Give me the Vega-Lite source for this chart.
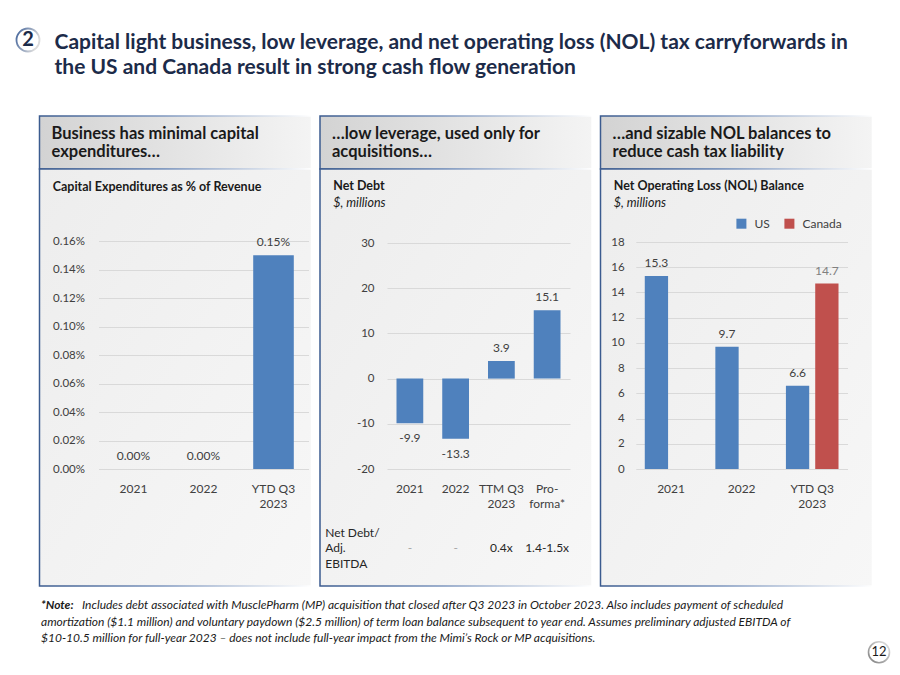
{
  "$schema": "https://vega.github.io/schema/vega-lite/v6.json",
  "background": "white",
  "padding": {"left": 12, "top": 24, "right": 0, "bottom": 0},
  "config": {
    "font": "Lato",
    "view": {"stroke": null},
    "axis": {"labelColor": "#404040", "labelFontSize": 11.5, "titleColor": "#1A1A1A", "titleFontSize": 12.5, "domain": false, "ticks": false, "tickSize": 0},
    "text": {"color": "#404040", "fontSize": 12}
  },
  "spacing": 37,
  "vconcat": [
    {
      "bounds": "flush",
      "spacing": 13,
      "hconcat": [
        {
          "width": 26,
          "height": 26,
          "data": {"values": [{"section": "2"}]},
          "layer": [
            {
              "mark": {"type": "point", "shape": "circle", "size": 529, "filled": true, "fill": "white", "opacity": 1, "strokeWidth": 1.8,
                "stroke": {"gradient": "linear", "x1": 0, "y1": 0, "x2": 1, "y2": 0.4, "stops": [{"offset": 0, "color": "#3F6199"}, {"offset": 1, "color": "#DCDCDC"}]}},
              "encoding": {}
            },
            {
              "mark": {"type": "text", "fontSize": 20, "fontWeight": "bold", "color": "#1C2B49", "baseline": "middle"},
              "encoding": {"text": {"field": "section"}}
            }
          ]
        },
        {
          "width": 1,
          "height": 50,
          "data": {"values": [{"headline": ["Capital light business, low leverage, and net operating loss (NOL) tax carryforwards in", "the US and Canada result in strong cash flow generation"]}]},
          "mark": {"type": "text", "align": "left", "baseline": "middle", "dy": -9, "fontSize": 21, "fontWeight": "bold", "color": "#1C2B49", "lineHeight": 25},
          "encoding": {"text": {"field": "headline"}}
        }
      ]
    },
    {
      "spacing": 12.25,
      "vconcat": [
        {
          "spacing": 6.5,
          "hconcat": [
            {"width": 16.75, "height": 10, "data": {"values": []}, "mark": "point", "encoding": {}},
            {
              "bounds": "flush",
              "spacing": 0,
              "vconcat": [
                {
                  "width": 272,
                  "height": 53,
                  "view": {
                    "fill": {"gradient": "linear", "x1": 0, "y1": 0, "x2": 1, "y2": 0, "stops": [{"offset": 0, "color": "#D3D3D3"}, {"offset": 1, "color": "#F4F4F4"}]},
                    "stroke": {"gradient": "linear", "x1": 0, "y1": 0, "x2": 1, "y2": 0, "stops": [{"offset": 0, "color": "#3B5B8F"}, {"offset": 0.45, "color": "#7D96BE"}, {"offset": 1, "color": "#FFFFFF"}]},
                    "strokeWidth": 1.5
                  },
                  "data": {"values": [{"header": ["Business has minimal capital", "expenditures…"]}]},
                  "mark": {"type": "text", "align": "left", "baseline": "middle", "dx": -124, "dy": -8.6, "fontSize": 16.5, "fontWeight": "bold", "color": "#1A1A1A", "lineHeight": 18.3},
                  "encoding": {"text": {"field": "header"}}
                },
                {
                  "width": 272,
                  "height": 417,
                  "view": {
                    "fill": {"gradient": "linear", "x1": 0, "y1": 0, "x2": 1, "y2": 1, "stops": [{"offset": 0, "color": "#EDEDED"}, {"offset": 1, "color": "#F7F7F7"}]},
                    "stroke": {"gradient": "linear", "x1": 0, "y1": 0, "x2": 1, "y2": 0, "stops": [{"offset": 0, "color": "#3B5B8F"}, {"offset": 0.45, "color": "#7D96BE"}, {"offset": 1, "color": "#FFFFFF"}]},
                    "strokeWidth": 1.5
                  },
                  "data": {"values": [
                    {"period": "2021", "capex": 0},
                    {"period": "2022", "capex": 0},
                    {"period": "YTD Q3 2023", "capex": 0.0015}
                  ]},
                  "layer": [
                    {
                      "mark": {"type": "bar", "color": "#4F81BD"},
                      "encoding": {
                        "x": {"field": "period", "type": "nominal", "sort": null,
                          "scale": {"range": [59, 269], "paddingInner": 0.42, "paddingOuter": 0.21},
                          "axis": {"orient": "bottom", "offset": -117, "title": null, "labelAngle": 0, "labelFontSize": 12, "labelPadding": 14, "labelLineHeight": 15.5, "grid": false,
                            "labelExpr": "datum.value == 'YTD Q3 2023' ? ['YTD Q3', '2023'] : datum.label"}},
                        "y": {"field": "capex", "type": "quantitative",
                          "scale": {"domain": [0, 0.0016], "range": [300, 72], "nice": false, "zero": true},
                          "axis": {"orient": "left", "offset": -59, "values": [0, 0.0002, 0.0004, 0.0006, 0.0008, 0.001, 0.0012, 0.0014, 0.0016], "format": ".2%",
                            "labelPadding": 14, "grid": true, "gridColor": "#D9D9D9", "labelOverlap": false,
                            "title": "Capital Expenditures as % of Revenue", "titleAngle": 0, "titleAlign": "left", "titleBaseline": "middle",
                            "titleX": -46.3, "titleY": 17, "titleFontWeight": "bold"}}
                      }
                    },
                    {
                      "mark": {"type": "text", "baseline": "middle", "dy": -13},
                      "encoding": {
                        "x": {"field": "period", "type": "nominal", "sort": null},
                        "y": {"field": "capex", "type": "quantitative"},
                        "text": {"field": "capex", "type": "quantitative", "format": ".2%"}
                      }
                    }
                  ]
                }
              ]
            },
            {
              "bounds": "flush",
              "spacing": 0,
              "vconcat": [
                {
                  "width": 272,
                  "height": 53,
                  "view": {
                    "fill": {"gradient": "linear", "x1": 0, "y1": 0, "x2": 1, "y2": 0, "stops": [{"offset": 0, "color": "#D3D3D3"}, {"offset": 1, "color": "#F4F4F4"}]},
                    "stroke": {"gradient": "linear", "x1": 0, "y1": 0, "x2": 1, "y2": 0, "stops": [{"offset": 0, "color": "#3B5B8F"}, {"offset": 0.45, "color": "#7D96BE"}, {"offset": 1, "color": "#FFFFFF"}]},
                    "strokeWidth": 1.5
                  },
                  "data": {"values": [{"header": ["…low leverage, used only for", "acquisitions…"]}]},
                  "mark": {"type": "text", "align": "left", "baseline": "middle", "dx": -124, "dy": -8.6, "fontSize": 16.5, "fontWeight": "bold", "color": "#1A1A1A", "lineHeight": 18.3},
                  "encoding": {"text": {"field": "header"}}
                },
                {
                  "width": 272,
                  "height": 417,
                  "view": {
                    "fill": {"gradient": "linear", "x1": 0, "y1": 0, "x2": 1, "y2": 1, "stops": [{"offset": 0, "color": "#EDEDED"}, {"offset": 1, "color": "#F7F7F7"}]},
                    "stroke": {"gradient": "linear", "x1": 0, "y1": 0, "x2": 1, "y2": 0, "stops": [{"offset": 0, "color": "#3B5B8F"}, {"offset": 0.45, "color": "#7D96BE"}, {"offset": 1, "color": "#FFFFFF"}]},
                    "strokeWidth": 1.5
                  },
                  "data": {"values": [
                    {"period": "2021", "netDebt": -9.9, "ratio": "-"},
                    {"period": "2022", "netDebt": -13.3, "ratio": "-"},
                    {"period": "TTM Q3 2023", "netDebt": 3.9, "ratio": "0.4x"},
                    {"period": "Pro-forma*", "netDebt": 15.1, "ratio": "1.4-1.5x"}
                  ]},
                  "resolve": {"axis": {"x": "independent"}},
                  "layer": [
                    {
                      "mark": {"type": "bar", "color": "#4F81BD"},
                      "encoding": {
                        "x": {"field": "period", "type": "nominal",
                          "scale": {"domain": ["2021", "2022", "TTM Q3 2023", "Pro-forma*"], "range": [67, 250], "paddingInner": 0.415, "paddingOuter": 0.2075},
                          "axis": {"orient": "bottom", "offset": -117, "labelAngle": 0, "labelFontSize": 12, "labelPadding": 14, "labelLineHeight": 15.5, "grid": false,
                            "labelExpr": "datum.value == 'TTM Q3 2023' ? ['TTM Q3', '2023'] : datum.value == 'Pro-forma*' ? ['Pro-', 'forma*'] : datum.label",
                            "title": ["Net Debt/", "Adj.", "EBITDA"], "titleAngle": 0, "titleAlign": "left", "titleBaseline": "middle",
                            "titleX": 4.7, "titleY": 63, "titleFontWeight": "normal", "titleFontSize": 12, "titleLineHeight": 15.6, "titleColor": "#262626"}},
                        "y": {"field": "netDebt", "type": "quantitative",
                          "scale": {"domain": [-20, 30], "range": [300, 74], "nice": false, "zero": false},
                          "axis": {"orient": "left", "offset": -67, "values": [-20, -10, 0, 10, 20, 30], "labelExpr": "'' + datum.value",
                            "labelPadding": 13, "grid": true, "gridColor": "#D9D9D9",
                            "title": "Net Debt", "titleAngle": 0, "titleAlign": "left", "titleBaseline": "middle",
                            "titleX": -54.3, "titleY": 16.3, "titleFontWeight": "bold"}}
                      }
                    },
                    {
                      "transform": [{"filter": "datum.netDebt >= 0"}],
                      "mark": {"type": "text", "baseline": "middle", "dy": -13},
                      "encoding": {
                        "x": {"field": "period", "type": "nominal", "axis": null},
                        "y": {"field": "netDebt", "type": "quantitative"},
                        "text": {"field": "netDebt", "type": "nominal"}
                      }
                    },
                    {
                      "transform": [{"filter": "datum.netDebt < 0"}],
                      "mark": {"type": "text", "baseline": "middle", "dy": 15},
                      "encoding": {
                        "x": {"field": "period", "type": "nominal", "axis": null},
                        "y": {"field": "netDebt", "type": "quantitative"},
                        "text": {"field": "netDebt", "type": "nominal"}
                      }
                    },
                    {
                      "mark": {"type": "text", "baseline": "middle", "dy": 78.7},
                      "encoding": {
                        "x": {"field": "period", "type": "nominal",
                          "axis": {"orient": "bottom", "offset": -117, "labels": false, "grid": false,
                            "title": "$, millions", "titleAngle": 0, "titleAlign": "left", "titleBaseline": "middle",
                            "titleX": 12.7, "titleY": -267, "titleFontWeight": "normal", "titleFontStyle": "italic"}},
                        "y": {"datum": -20},
                        "text": {"field": "ratio", "type": "nominal"},
                        "color": {"condition": {"test": "datum.ratio == '-'", "value": "#A6A6A6"}, "value": "#262626"}
                      }
                    }
                  ]
                }
              ]
            },
            {
              "bounds": "flush",
              "spacing": 0,
              "vconcat": [
                {
                  "width": 272,
                  "height": 53,
                  "view": {
                    "fill": {"gradient": "linear", "x1": 0, "y1": 0, "x2": 1, "y2": 0, "stops": [{"offset": 0, "color": "#D3D3D3"}, {"offset": 1, "color": "#F4F4F4"}]},
                    "stroke": {"gradient": "linear", "x1": 0, "y1": 0, "x2": 1, "y2": 0, "stops": [{"offset": 0, "color": "#3B5B8F"}, {"offset": 0.45, "color": "#7D96BE"}, {"offset": 1, "color": "#FFFFFF"}]},
                    "strokeWidth": 1.5
                  },
                  "data": {"values": [{"header": ["…and sizable NOL balances to", "reduce cash tax liability"]}]},
                  "mark": {"type": "text", "align": "left", "baseline": "middle", "dx": -124, "dy": -8.6, "fontSize": 16.5, "fontWeight": "bold", "color": "#1A1A1A", "lineHeight": 18.3},
                  "encoding": {"text": {"field": "header"}}
                },
                {
                  "width": 272,
                  "height": 417,
                  "view": {
                    "fill": {"gradient": "linear", "x1": 0, "y1": 0, "x2": 1, "y2": 1, "stops": [{"offset": 0, "color": "#EDEDED"}, {"offset": 1, "color": "#F7F7F7"}]},
                    "stroke": {"gradient": "linear", "x1": 0, "y1": 0, "x2": 1, "y2": 0, "stops": [{"offset": 0, "color": "#3B5B8F"}, {"offset": 0.45, "color": "#7D96BE"}, {"offset": 1, "color": "#FFFFFF"}]},
                    "strokeWidth": 1.5
                  },
                  "data": {"values": [
                    {"period": "2021", "country": "US", "nol": 15.3},
                    {"period": "2022", "country": "US", "nol": 9.7},
                    {"period": "YTD Q3 2023", "country": "US", "nol": 6.6},
                    {"period": "YTD Q3 2023", "country": "Canada", "nol": 14.7}
                  ]},
                  "resolve": {"axis": {"x": "independent"}},
                  "layer": [
                    {
                      "mark": {"type": "bar"},
                      "encoding": {
                        "x": {"field": "period", "type": "nominal", "sort": null,
                          "scale": {"range": [35.3, 247], "paddingInner": 0.15, "paddingOuter": 0.075},
                          "axis": {"orient": "bottom", "offset": -117, "title": null, "labelAngle": 0, "labelFontSize": 12, "labelPadding": 14, "labelLineHeight": 15.5, "grid": false,
                            "labelExpr": "datum.value == 'YTD Q3 2023' ? ['YTD Q3', '2023'] : datum.label"}},
                        "xOffset": {"field": "country", "type": "nominal", "scale": {"domain": ["US", "Canada"], "paddingInner": 0.205, "paddingOuter": 0.126}},
                        "y": {"field": "nol", "type": "quantitative",
                          "scale": {"domain": [0, 18], "range": [300, 73], "nice": false},
                          "axis": {"orient": "left", "offset": -35.3, "values": [0, 2, 4, 6, 8, 10, 12, 14, 16, 18],
                            "labelPadding": 11.6, "grid": true, "gridColor": "#D9D9D9",
                            "title": "Net Operating Loss (NOL) Balance", "titleAngle": 0, "titleAlign": "left", "titleBaseline": "middle",
                            "titleX": -22.6, "titleY": 16.3, "titleFontWeight": "bold"}},
                        "color": {"field": "country", "type": "nominal",
                          "scale": {"domain": ["US", "Canada"], "range": ["#4F81BD", "#C0504D"]},
                          "legend": {"orient": "none", "legendX": 720.4, "legendY": 190.7, "direction": "horizontal", "title": null,
                            "symbolType": "square", "symbolSize": 100, "symbolStrokeWidth": 0, "labelFontSize": 12, "labelColor": "#404040",
                            "columnPadding": 13, "labelOffset": 7}}
                      }
                    },
                    {
                      "mark": {"type": "text", "baseline": "middle", "dy": -13},
                      "encoding": {
                        "x": {"field": "period", "type": "nominal", "sort": null,
                          "axis": {"orient": "bottom", "offset": -117, "labels": false, "grid": false,
                            "title": "$, millions", "titleAngle": 0, "titleAlign": "left", "titleBaseline": "middle",
                            "titleX": 12.7, "titleY": -267, "titleFontWeight": "normal", "titleFontStyle": "italic"}},
                        "xOffset": {"field": "country", "type": "nominal"},
                        "y": {"field": "nol", "type": "quantitative"},
                        "text": {"field": "nol", "type": "nominal"},
                        "color": {"condition": {"test": "datum.country == 'Canada'", "value": "#808080"}, "value": "#404040"}
                      }
                    }
                  ]
                }
              ]
            }
          ]
        },
        {
          "bounds": "flush",
          "spacing": 800,
          "hconcat": [
            {
              "width": 52,
              "height": 24,
              "data": {"values": [{
                "lead": "*Note:",
                "first": "Includes debt associated with MusclePharm (MP) acquisition that closed after Q3 2023 in October 2023.  Also includes payment of scheduled",
                "rest": ["amortization ($1.1 million) and voluntary paydown ($2.5 million) of term loan balance subsequent to year end.  Assumes preliminary adjusted EBITDA of", "$10-10.5 million for full-year 2023 – does not include full-year impact from the Mimi’s Rock or MP acquisitions."]
              }]},
              "layer": [
                {
                  "mark": {"type": "text", "align": "left", "baseline": "middle", "dy": -47, "fontSize": 12, "fontStyle": "italic", "fontWeight": "bold", "color": "#1A1A1A"},
                  "encoding": {"text": {"field": "lead"}}
                },
                {
                  "mark": {"type": "text", "align": "left", "baseline": "middle", "dx": 41, "dy": -47, "fontSize": 12, "fontStyle": "italic", "color": "#1A1A1A"},
                  "encoding": {"text": {"field": "first"}}
                },
                {
                  "mark": {"type": "text", "align": "left", "baseline": "middle", "dy": -30.5, "lineHeight": 16.5, "fontSize": 12, "fontStyle": "italic", "color": "#1A1A1A"},
                  "encoding": {"text": {"field": "rest"}}
                }
              ]
            },
            {
              "width": 24,
              "height": 24,
              "data": {"values": [{"page": "12"}]},
              "layer": [
                {
                  "mark": {"type": "point", "shape": "circle", "size": 441, "filled": true, "fill": "white", "opacity": 1, "strokeWidth": 1.6,
                    "stroke": {"gradient": "linear", "x1": 0, "y1": 1, "x2": 1, "y2": 0, "stops": [{"offset": 0, "color": "#7F7F7F"}, {"offset": 1, "color": "#E6E6E6"}]}},
                  "encoding": {}
                },
                {
                  "mark": {"type": "text", "fontSize": 13, "color": "#1A1A1A", "baseline": "middle"},
                  "encoding": {"text": {"field": "page"}}
                }
              ]
            }
          ]
        }
      ]
    }
  ]
}
